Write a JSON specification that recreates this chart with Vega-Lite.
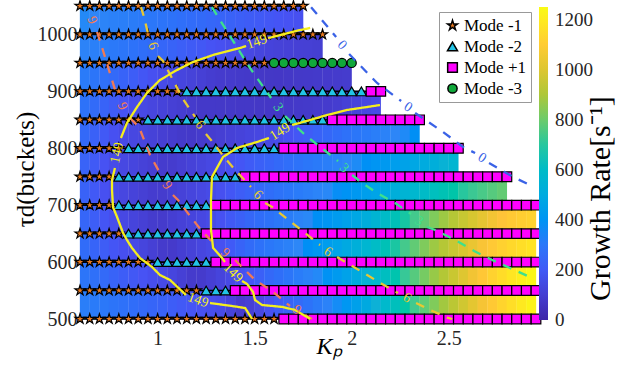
{
"$schema":"https://vega.github.io/schema/vega-lite/v6.json",
"width":456,"height":313,
"autosize":{"type":"none"},
"padding":{"left":80,"top":6,"right":88,"bottom":46},
"config":{"view":{"stroke":null},"font":"Liberation Serif",
"axis":{"domain":false,"ticks":false,"grid":false,"labelFont":"Liberation Serif","labelColor":"#262626","labelFontSize":20,"titleFont":"Liberation Serif","titleFontWeight":"normal","titleColor":"#000"},
"legend":{"labelFont":"Liberation Serif","titleFont":"Liberation Serif"}},
"datasets":{
"pts":[
{"k":0.6,"t":500,"m":"-1"},{"k":0.65,"t":500,"m":"-1"},{"k":0.7,"t":500,"m":"-1"},{"k":0.75,"t":500,"m":"-1"},{"k":0.8,"t":500,"m":"-1"},{"k":0.85,"t":500,"m":"-1"},{"k":0.9,"t":500,"m":"-1"},{"k":0.95,"t":500,"m":"-1"},{"k":1,"t":500,"m":"-1"},{"k":1.05,"t":500,"m":"-1"},{"k":1.1,"t":500,"m":"-1"},{"k":1.15,"t":500,"m":"-1"},{"k":1.2,"t":500,"m":"-1"},{"k":1.25,"t":500,"m":"-1"},{"k":1.3,"t":500,"m":"-1"},{"k":1.35,"t":500,"m":"-1"},{"k":1.4,"t":500,"m":"-1"},{"k":1.45,"t":500,"m":"-1"},{"k":1.5,"t":500,"m":"-1"},{"k":1.55,"t":500,"m":"-1"},{"k":1.6,"t":500,"m":"-1"},
{"k":1.65,"t":500,"m":"+1"},{"k":1.7,"t":500,"m":"+1"},{"k":1.75,"t":500,"m":"+1"},{"k":1.8,"t":500,"m":"+1"},{"k":1.85,"t":500,"m":"+1"},{"k":1.9,"t":500,"m":"+1"},{"k":1.95,"t":500,"m":"+1"},{"k":2,"t":500,"m":"+1"},{"k":2.05,"t":500,"m":"+1"},{"k":2.1,"t":500,"m":"+1"},{"k":2.15,"t":500,"m":"+1"},{"k":2.2,"t":500,"m":"+1"},{"k":2.25,"t":500,"m":"+1"},{"k":2.3,"t":500,"m":"+1"},{"k":2.35,"t":500,"m":"+1"},{"k":2.4,"t":500,"m":"+1"},{"k":2.45,"t":500,"m":"+1"},{"k":2.5,"t":500,"m":"+1"},{"k":2.55,"t":500,"m":"+1"},{"k":2.6,"t":500,"m":"+1"},{"k":2.65,"t":500,"m":"+1"},{"k":2.7,"t":500,"m":"+1"},{"k":2.75,"t":500,"m":"+1"},{"k":2.8,"t":500,"m":"+1"},{"k":2.85,"t":500,"m":"+1"},{"k":2.9,"t":500,"m":"+1"},{"k":2.95,"t":500,"m":"+1"},
{"k":0.6,"t":550,"m":"-1"},{"k":0.65,"t":550,"m":"-1"},{"k":0.7,"t":550,"m":"-1"},{"k":0.75,"t":550,"m":"-1"},{"k":0.8,"t":550,"m":"-1"},{"k":0.85,"t":550,"m":"-1"},{"k":0.9,"t":550,"m":"-1"},{"k":0.95,"t":550,"m":"-1"},{"k":1,"t":550,"m":"-1"},{"k":1.05,"t":550,"m":"-1"},{"k":1.1,"t":550,"m":"-1"},{"k":1.15,"t":550,"m":"-1"},{"k":1.2,"t":550,"m":"-1"},
{"k":1.25,"t":550,"m":"-2"},{"k":1.3,"t":550,"m":"-2"},{"k":1.35,"t":550,"m":"-2"},
{"k":1.4,"t":550,"m":"+1"},{"k":1.45,"t":550,"m":"+1"},{"k":1.5,"t":550,"m":"+1"},{"k":1.55,"t":550,"m":"+1"},{"k":1.6,"t":550,"m":"+1"},{"k":1.65,"t":550,"m":"+1"},{"k":1.7,"t":550,"m":"+1"},{"k":1.75,"t":550,"m":"+1"},{"k":1.8,"t":550,"m":"+1"},{"k":1.85,"t":550,"m":"+1"},{"k":1.9,"t":550,"m":"+1"},{"k":1.95,"t":550,"m":"+1"},{"k":2,"t":550,"m":"+1"},{"k":2.05,"t":550,"m":"+1"},{"k":2.1,"t":550,"m":"+1"},{"k":2.15,"t":550,"m":"+1"},{"k":2.2,"t":550,"m":"+1"},{"k":2.25,"t":550,"m":"+1"},{"k":2.3,"t":550,"m":"+1"},{"k":2.35,"t":550,"m":"+1"},{"k":2.4,"t":550,"m":"+1"},{"k":2.45,"t":550,"m":"+1"},{"k":2.5,"t":550,"m":"+1"},{"k":2.55,"t":550,"m":"+1"},{"k":2.6,"t":550,"m":"+1"},{"k":2.65,"t":550,"m":"+1"},{"k":2.7,"t":550,"m":"+1"},{"k":2.75,"t":550,"m":"+1"},{"k":2.8,"t":550,"m":"+1"},{"k":2.85,"t":550,"m":"+1"},{"k":2.9,"t":550,"m":"+1"},{"k":2.95,"t":550,"m":"+1"},
{"k":0.6,"t":600,"m":"-1"},{"k":0.65,"t":600,"m":"-1"},{"k":0.7,"t":600,"m":"-1"},{"k":0.75,"t":600,"m":"-1"},{"k":0.8,"t":600,"m":"-1"},{"k":0.85,"t":600,"m":"-1"},{"k":0.9,"t":600,"m":"-1"},{"k":0.95,"t":600,"m":"-1"},
{"k":1,"t":600,"m":"-2"},{"k":1.05,"t":600,"m":"-2"},{"k":1.1,"t":600,"m":"-2"},{"k":1.15,"t":600,"m":"-2"},{"k":1.2,"t":600,"m":"-2"},{"k":1.25,"t":600,"m":"-2"},
{"k":1.3,"t":600,"m":"+1"},{"k":1.35,"t":600,"m":"+1"},{"k":1.4,"t":600,"m":"+1"},{"k":1.45,"t":600,"m":"+1"},{"k":1.5,"t":600,"m":"+1"},{"k":1.55,"t":600,"m":"+1"},{"k":1.6,"t":600,"m":"+1"},{"k":1.65,"t":600,"m":"+1"},{"k":1.7,"t":600,"m":"+1"},{"k":1.75,"t":600,"m":"+1"},{"k":1.8,"t":600,"m":"+1"},{"k":1.85,"t":600,"m":"+1"},{"k":1.9,"t":600,"m":"+1"},{"k":1.95,"t":600,"m":"+1"},{"k":2,"t":600,"m":"+1"},{"k":2.05,"t":600,"m":"+1"},{"k":2.1,"t":600,"m":"+1"},{"k":2.15,"t":600,"m":"+1"},{"k":2.2,"t":600,"m":"+1"},{"k":2.25,"t":600,"m":"+1"},{"k":2.3,"t":600,"m":"+1"},{"k":2.35,"t":600,"m":"+1"},{"k":2.4,"t":600,"m":"+1"},{"k":2.45,"t":600,"m":"+1"},{"k":2.5,"t":600,"m":"+1"},{"k":2.55,"t":600,"m":"+1"},{"k":2.6,"t":600,"m":"+1"},{"k":2.65,"t":600,"m":"+1"},{"k":2.7,"t":600,"m":"+1"},{"k":2.75,"t":600,"m":"+1"},{"k":2.8,"t":600,"m":"+1"},{"k":2.85,"t":600,"m":"+1"},{"k":2.9,"t":600,"m":"+1"},{"k":2.95,"t":600,"m":"+1"},
{"k":0.6,"t":650,"m":"-1"},{"k":0.65,"t":650,"m":"-1"},{"k":0.7,"t":650,"m":"-1"},{"k":0.75,"t":650,"m":"-1"},{"k":0.8,"t":650,"m":"-1"},
{"k":0.85,"t":650,"m":"-2"},{"k":0.9,"t":650,"m":"-2"},{"k":0.95,"t":650,"m":"-2"},{"k":1,"t":650,"m":"-2"},{"k":1.05,"t":650,"m":"-2"},{"k":1.1,"t":650,"m":"-2"},{"k":1.15,"t":650,"m":"-2"},{"k":1.2,"t":650,"m":"-2"},
{"k":1.25,"t":650,"m":"+1"},{"k":1.3,"t":650,"m":"+1"},{"k":1.35,"t":650,"m":"+1"},{"k":1.4,"t":650,"m":"+1"},{"k":1.45,"t":650,"m":"+1"},{"k":1.5,"t":650,"m":"+1"},{"k":1.55,"t":650,"m":"+1"},{"k":1.6,"t":650,"m":"+1"},{"k":1.65,"t":650,"m":"+1"},{"k":1.7,"t":650,"m":"+1"},{"k":1.75,"t":650,"m":"+1"},{"k":1.8,"t":650,"m":"+1"},{"k":1.85,"t":650,"m":"+1"},{"k":1.9,"t":650,"m":"+1"},{"k":1.95,"t":650,"m":"+1"},{"k":2,"t":650,"m":"+1"},{"k":2.05,"t":650,"m":"+1"},{"k":2.1,"t":650,"m":"+1"},{"k":2.15,"t":650,"m":"+1"},{"k":2.2,"t":650,"m":"+1"},{"k":2.25,"t":650,"m":"+1"},{"k":2.3,"t":650,"m":"+1"},{"k":2.35,"t":650,"m":"+1"},{"k":2.4,"t":650,"m":"+1"},{"k":2.45,"t":650,"m":"+1"},{"k":2.5,"t":650,"m":"+1"},{"k":2.55,"t":650,"m":"+1"},{"k":2.6,"t":650,"m":"+1"},{"k":2.65,"t":650,"m":"+1"},{"k":2.7,"t":650,"m":"+1"},{"k":2.75,"t":650,"m":"+1"},{"k":2.8,"t":650,"m":"+1"},{"k":2.85,"t":650,"m":"+1"},{"k":2.9,"t":650,"m":"+1"},{"k":2.95,"t":650,"m":"+1"},
{"k":0.6,"t":700,"m":"-1"},{"k":0.65,"t":700,"m":"-1"},{"k":0.7,"t":700,"m":"-1"},{"k":0.75,"t":700,"m":"-1"},
{"k":0.8,"t":700,"m":"-2"},{"k":0.85,"t":700,"m":"-2"},{"k":0.9,"t":700,"m":"-2"},{"k":0.95,"t":700,"m":"-2"},{"k":1,"t":700,"m":"-2"},{"k":1.05,"t":700,"m":"-2"},{"k":1.1,"t":700,"m":"-2"},{"k":1.15,"t":700,"m":"-2"},{"k":1.2,"t":700,"m":"-2"},{"k":1.25,"t":700,"m":"-2"},
{"k":1.3,"t":700,"m":"+1"},{"k":1.35,"t":700,"m":"+1"},{"k":1.4,"t":700,"m":"+1"},{"k":1.45,"t":700,"m":"+1"},{"k":1.5,"t":700,"m":"+1"},{"k":1.55,"t":700,"m":"+1"},{"k":1.6,"t":700,"m":"+1"},{"k":1.65,"t":700,"m":"+1"},{"k":1.7,"t":700,"m":"+1"},{"k":1.75,"t":700,"m":"+1"},{"k":1.8,"t":700,"m":"+1"},{"k":1.85,"t":700,"m":"+1"},{"k":1.9,"t":700,"m":"+1"},{"k":1.95,"t":700,"m":"+1"},{"k":2,"t":700,"m":"+1"},{"k":2.05,"t":700,"m":"+1"},{"k":2.1,"t":700,"m":"+1"},{"k":2.15,"t":700,"m":"+1"},{"k":2.2,"t":700,"m":"+1"},{"k":2.25,"t":700,"m":"+1"},{"k":2.3,"t":700,"m":"+1"},{"k":2.35,"t":700,"m":"+1"},{"k":2.4,"t":700,"m":"+1"},{"k":2.45,"t":700,"m":"+1"},{"k":2.5,"t":700,"m":"+1"},{"k":2.55,"t":700,"m":"+1"},{"k":2.6,"t":700,"m":"+1"},{"k":2.65,"t":700,"m":"+1"},{"k":2.7,"t":700,"m":"+1"},{"k":2.75,"t":700,"m":"+1"},{"k":2.8,"t":700,"m":"+1"},{"k":2.85,"t":700,"m":"+1"},{"k":2.9,"t":700,"m":"+1"},{"k":2.95,"t":700,"m":"+1"},
{"k":0.6,"t":750,"m":"-1"},{"k":0.65,"t":750,"m":"-1"},{"k":0.7,"t":750,"m":"-1"},{"k":0.75,"t":750,"m":"-1"},
{"k":0.8,"t":750,"m":"-2"},{"k":0.85,"t":750,"m":"-2"},{"k":0.9,"t":750,"m":"-2"},{"k":0.95,"t":750,"m":"-2"},{"k":1,"t":750,"m":"-2"},{"k":1.05,"t":750,"m":"-2"},{"k":1.1,"t":750,"m":"-2"},{"k":1.15,"t":750,"m":"-2"},{"k":1.2,"t":750,"m":"-2"},{"k":1.25,"t":750,"m":"-2"},{"k":1.3,"t":750,"m":"-2"},{"k":1.35,"t":750,"m":"-2"},{"k":1.4,"t":750,"m":"-2"},
{"k":1.45,"t":750,"m":"+1"},{"k":1.5,"t":750,"m":"+1"},{"k":1.55,"t":750,"m":"+1"},{"k":1.6,"t":750,"m":"+1"},{"k":1.65,"t":750,"m":"+1"},{"k":1.7,"t":750,"m":"+1"},{"k":1.75,"t":750,"m":"+1"},{"k":1.8,"t":750,"m":"+1"},{"k":1.85,"t":750,"m":"+1"},{"k":1.9,"t":750,"m":"+1"},{"k":1.95,"t":750,"m":"+1"},{"k":2,"t":750,"m":"+1"},{"k":2.05,"t":750,"m":"+1"},{"k":2.1,"t":750,"m":"+1"},{"k":2.15,"t":750,"m":"+1"},{"k":2.2,"t":750,"m":"+1"},{"k":2.25,"t":750,"m":"+1"},{"k":2.3,"t":750,"m":"+1"},{"k":2.35,"t":750,"m":"+1"},{"k":2.4,"t":750,"m":"+1"},{"k":2.45,"t":750,"m":"+1"},{"k":2.5,"t":750,"m":"+1"},{"k":2.55,"t":750,"m":"+1"},{"k":2.6,"t":750,"m":"+1"},{"k":2.65,"t":750,"m":"+1"},{"k":2.7,"t":750,"m":"+1"},{"k":2.75,"t":750,"m":"+1"},{"k":2.8,"t":750,"m":"+1"},
{"k":0.6,"t":800,"m":"-1"},{"k":0.65,"t":800,"m":"-1"},{"k":0.7,"t":800,"m":"-1"},{"k":0.75,"t":800,"m":"-1"},{"k":0.8,"t":800,"m":"-1"},
{"k":0.85,"t":800,"m":"-2"},{"k":0.9,"t":800,"m":"-2"},{"k":0.95,"t":800,"m":"-2"},{"k":1,"t":800,"m":"-2"},{"k":1.05,"t":800,"m":"-2"},{"k":1.1,"t":800,"m":"-2"},{"k":1.15,"t":800,"m":"-2"},{"k":1.2,"t":800,"m":"-2"},{"k":1.25,"t":800,"m":"-2"},{"k":1.3,"t":800,"m":"-2"},{"k":1.35,"t":800,"m":"-2"},{"k":1.4,"t":800,"m":"-2"},{"k":1.45,"t":800,"m":"-2"},{"k":1.5,"t":800,"m":"-2"},{"k":1.55,"t":800,"m":"-2"},{"k":1.6,"t":800,"m":"-2"},
{"k":1.65,"t":800,"m":"+1"},{"k":1.7,"t":800,"m":"+1"},{"k":1.75,"t":800,"m":"+1"},{"k":1.8,"t":800,"m":"+1"},{"k":1.85,"t":800,"m":"+1"},{"k":1.9,"t":800,"m":"+1"},{"k":1.95,"t":800,"m":"+1"},{"k":2,"t":800,"m":"+1"},{"k":2.05,"t":800,"m":"+1"},{"k":2.1,"t":800,"m":"+1"},{"k":2.15,"t":800,"m":"+1"},{"k":2.2,"t":800,"m":"+1"},{"k":2.25,"t":800,"m":"+1"},{"k":2.3,"t":800,"m":"+1"},{"k":2.35,"t":800,"m":"+1"},{"k":2.4,"t":800,"m":"+1"},{"k":2.45,"t":800,"m":"+1"},{"k":2.5,"t":800,"m":"+1"},{"k":2.55,"t":800,"m":"+1"},
{"k":0.6,"t":850,"m":"-1"},{"k":0.65,"t":850,"m":"-1"},{"k":0.7,"t":850,"m":"-1"},{"k":0.75,"t":850,"m":"-1"},{"k":0.8,"t":850,"m":"-1"},{"k":0.85,"t":850,"m":"-1"},{"k":0.9,"t":850,"m":"-1"},
{"k":0.95,"t":850,"m":"-2"},{"k":1,"t":850,"m":"-2"},{"k":1.05,"t":850,"m":"-2"},{"k":1.1,"t":850,"m":"-2"},{"k":1.15,"t":850,"m":"-2"},{"k":1.2,"t":850,"m":"-2"},{"k":1.25,"t":850,"m":"-2"},{"k":1.3,"t":850,"m":"-2"},{"k":1.35,"t":850,"m":"-2"},{"k":1.4,"t":850,"m":"-2"},{"k":1.45,"t":850,"m":"-2"},{"k":1.5,"t":850,"m":"-2"},{"k":1.55,"t":850,"m":"-2"},{"k":1.6,"t":850,"m":"-2"},{"k":1.65,"t":850,"m":"-2"},{"k":1.7,"t":850,"m":"-2"},{"k":1.75,"t":850,"m":"-2"},{"k":1.8,"t":850,"m":"-2"},{"k":1.85,"t":850,"m":"-2"},
{"k":1.9,"t":850,"m":"+1"},{"k":1.95,"t":850,"m":"+1"},{"k":2,"t":850,"m":"+1"},{"k":2.05,"t":850,"m":"+1"},{"k":2.1,"t":850,"m":"+1"},{"k":2.15,"t":850,"m":"+1"},{"k":2.2,"t":850,"m":"+1"},{"k":2.25,"t":850,"m":"+1"},{"k":2.3,"t":850,"m":"+1"},{"k":2.35,"t":850,"m":"+1"},
{"k":0.6,"t":900,"m":"-1"},{"k":0.65,"t":900,"m":"-1"},{"k":0.7,"t":900,"m":"-1"},{"k":0.75,"t":900,"m":"-1"},{"k":0.8,"t":900,"m":"-1"},{"k":0.85,"t":900,"m":"-1"},{"k":0.9,"t":900,"m":"-1"},{"k":0.95,"t":900,"m":"-1"},{"k":1,"t":900,"m":"-1"},{"k":1.05,"t":900,"m":"-1"},{"k":1.1,"t":900,"m":"-1"},
{"k":1.15,"t":900,"m":"-2"},{"k":1.2,"t":900,"m":"-2"},{"k":1.25,"t":900,"m":"-2"},{"k":1.3,"t":900,"m":"-2"},{"k":1.35,"t":900,"m":"-2"},{"k":1.4,"t":900,"m":"-2"},{"k":1.45,"t":900,"m":"-2"},{"k":1.5,"t":900,"m":"-2"},{"k":1.55,"t":900,"m":"-2"},{"k":1.6,"t":900,"m":"-2"},{"k":1.65,"t":900,"m":"-2"},{"k":1.7,"t":900,"m":"-2"},{"k":1.75,"t":900,"m":"-2"},{"k":1.8,"t":900,"m":"-2"},{"k":1.85,"t":900,"m":"-2"},{"k":1.9,"t":900,"m":"-2"},{"k":1.95,"t":900,"m":"-2"},{"k":2,"t":900,"m":"-2"},{"k":2.05,"t":900,"m":"-2"},
{"k":2.1,"t":900,"m":"+1"},{"k":2.15,"t":900,"m":"+1"},
{"k":0.6,"t":950,"m":"-1"},{"k":0.65,"t":950,"m":"-1"},{"k":0.7,"t":950,"m":"-1"},{"k":0.75,"t":950,"m":"-1"},{"k":0.8,"t":950,"m":"-1"},{"k":0.85,"t":950,"m":"-1"},{"k":0.9,"t":950,"m":"-1"},{"k":0.95,"t":950,"m":"-1"},{"k":1,"t":950,"m":"-1"},{"k":1.05,"t":950,"m":"-1"},{"k":1.1,"t":950,"m":"-1"},{"k":1.15,"t":950,"m":"-1"},{"k":1.2,"t":950,"m":"-1"},{"k":1.25,"t":950,"m":"-1"},{"k":1.3,"t":950,"m":"-1"},{"k":1.35,"t":950,"m":"-1"},{"k":1.4,"t":950,"m":"-1"},{"k":1.45,"t":950,"m":"-1"},{"k":1.5,"t":950,"m":"-1"},{"k":1.55,"t":950,"m":"-1"},
{"k":1.6,"t":950,"m":"-3"},{"k":1.65,"t":950,"m":"-3"},{"k":1.7,"t":950,"m":"-3"},{"k":1.75,"t":950,"m":"-3"},{"k":1.8,"t":950,"m":"-3"},{"k":1.85,"t":950,"m":"-3"},{"k":1.9,"t":950,"m":"-3"},{"k":1.95,"t":950,"m":"-3"},{"k":2,"t":950,"m":"-3"},
{"k":0.6,"t":1000,"m":"-1"},{"k":0.65,"t":1000,"m":"-1"},{"k":0.7,"t":1000,"m":"-1"},{"k":0.75,"t":1000,"m":"-1"},{"k":0.8,"t":1000,"m":"-1"},{"k":0.85,"t":1000,"m":"-1"},{"k":0.9,"t":1000,"m":"-1"},{"k":0.95,"t":1000,"m":"-1"},{"k":1,"t":1000,"m":"-1"},{"k":1.05,"t":1000,"m":"-1"},{"k":1.1,"t":1000,"m":"-1"},{"k":1.15,"t":1000,"m":"-1"},{"k":1.2,"t":1000,"m":"-1"},{"k":1.25,"t":1000,"m":"-1"},{"k":1.3,"t":1000,"m":"-1"},{"k":1.35,"t":1000,"m":"-1"},{"k":1.4,"t":1000,"m":"-1"},{"k":1.45,"t":1000,"m":"-1"},{"k":1.5,"t":1000,"m":"-1"},{"k":1.55,"t":1000,"m":"-1"},{"k":1.6,"t":1000,"m":"-1"},{"k":1.65,"t":1000,"m":"-1"},{"k":1.7,"t":1000,"m":"-1"},{"k":1.75,"t":1000,"m":"-1"},{"k":1.8,"t":1000,"m":"-1"},{"k":1.85,"t":1000,"m":"-1"},
{"k":0.6,"t":1050,"m":"-1"},{"k":0.65,"t":1050,"m":"-1"},{"k":0.7,"t":1050,"m":"-1"},{"k":0.75,"t":1050,"m":"-1"},{"k":0.8,"t":1050,"m":"-1"},{"k":0.85,"t":1050,"m":"-1"},{"k":0.9,"t":1050,"m":"-1"},{"k":0.95,"t":1050,"m":"-1"},{"k":1,"t":1050,"m":"-1"},{"k":1.05,"t":1050,"m":"-1"},{"k":1.1,"t":1050,"m":"-1"},{"k":1.15,"t":1050,"m":"-1"},{"k":1.2,"t":1050,"m":"-1"},{"k":1.25,"t":1050,"m":"-1"},{"k":1.3,"t":1050,"m":"-1"},{"k":1.35,"t":1050,"m":"-1"},{"k":1.4,"t":1050,"m":"-1"},{"k":1.45,"t":1050,"m":"-1"},{"k":1.5,"t":1050,"m":"-1"},{"k":1.55,"t":1050,"m":"-1"},{"k":1.6,"t":1050,"m":"-1"},{"k":1.65,"t":1050,"m":"-1"},{"k":1.7,"t":1050,"m":"-1"},{"k":1.75,"t":1050,"m":"-1"}
],
"heat":[
{"k":0.625,"t":525,"g":324},{"k":0.675,"t":525,"g":311},{"k":0.725,"t":525,"g":299},{"k":0.775,"t":525,"g":286},{"k":0.825,"t":525,"g":274},{"k":0.875,"t":525,"g":261},{"k":0.925,"t":525,"g":249},{"k":0.975,"t":525,"g":236},{"k":1.025,"t":525,"g":224},{"k":1.075,"t":525,"g":211},{"k":1.125,"t":525,"g":199},{"k":1.175,"t":525,"g":186},{"k":1.225,"t":525,"g":175},{"k":1.275,"t":525,"g":162},{"k":1.325,"t":525,"g":150},{"k":1.375,"t":525,"g":120},{"k":1.425,"t":525,"g":90},{"k":1.475,"t":525,"g":105},{"k":1.525,"t":525,"g":140},{"k":1.575,"t":525,"g":173},{"k":1.625,"t":525,"g":203},{"k":1.675,"t":525,"g":228},{"k":1.725,"t":525,"g":253},{"k":1.775,"t":525,"g":278},{"k":1.825,"t":525,"g":306},{"k":1.875,"t":525,"g":339},{"k":1.925,"t":525,"g":374},{"k":1.975,"t":525,"g":411},{"k":2.025,"t":525,"g":451},{"k":2.075,"t":525,"g":494},{"k":2.125,"t":525,"g":538},{"k":2.175,"t":525,"g":583},{"k":2.225,"t":525,"g":630},{"k":2.275,"t":525,"g":680},{"k":2.325,"t":525,"g":730},{"k":2.375,"t":525,"g":780},{"k":2.425,"t":525,"g":830},{"k":2.475,"t":525,"g":880},{"k":2.525,"t":525,"g":928},{"k":2.575,"t":525,"g":973},{"k":2.625,"t":525,"g":1015},{"k":2.675,"t":525,"g":1055},{"k":2.725,"t":525,"g":1093},{"k":2.775,"t":525,"g":1128},{"k":2.825,"t":525,"g":1161},{"k":2.875,"t":525,"g":1194},{"k":2.925,"t":525,"g":1225},
{"k":0.625,"t":575,"g":290},{"k":0.675,"t":575,"g":270},{"k":0.725,"t":575,"g":250},{"k":0.775,"t":575,"g":230},{"k":0.825,"t":575,"g":211},{"k":0.875,"t":575,"g":195},{"k":0.925,"t":575,"g":180},{"k":0.975,"t":575,"g":164},{"k":1.025,"t":575,"g":147},{"k":1.075,"t":575,"g":127},{"k":1.125,"t":575,"g":106},{"k":1.175,"t":575,"g":85},{"k":1.225,"t":575,"g":85},{"k":1.275,"t":575,"g":104},{"k":1.325,"t":575,"g":124},{"k":1.375,"t":575,"g":143},{"k":1.425,"t":575,"g":167},{"k":1.475,"t":575,"g":192},{"k":1.525,"t":575,"g":218},{"k":1.575,"t":575,"g":243},{"k":1.625,"t":575,"g":266},{"k":1.675,"t":575,"g":289},{"k":1.725,"t":575,"g":313},{"k":1.775,"t":575,"g":338},{"k":1.825,"t":575,"g":365},{"k":1.875,"t":575,"g":395},{"k":1.925,"t":575,"g":426},{"k":1.975,"t":575,"g":459},{"k":2.025,"t":575,"g":494},{"k":2.075,"t":575,"g":531},{"k":2.125,"t":575,"g":573},{"k":2.175,"t":575,"g":618},{"k":2.225,"t":575,"g":665},{"k":2.275,"t":575,"g":715},{"k":2.325,"t":575,"g":765},{"k":2.375,"t":575,"g":815},{"k":2.425,"t":575,"g":864},{"k":2.475,"t":575,"g":911},{"k":2.525,"t":575,"g":958},{"k":2.575,"t":575,"g":1003},{"k":2.625,"t":575,"g":1045},{"k":2.675,"t":575,"g":1085},{"k":2.725,"t":575,"g":1121},{"k":2.775,"t":575,"g":1154},{"k":2.825,"t":575,"g":1184},{"k":2.875,"t":575,"g":1211},{"k":2.925,"t":575,"g":1235},
{"k":0.625,"t":625,"g":258},{"k":0.675,"t":625,"g":233},{"k":0.725,"t":625,"g":209},{"k":0.775,"t":625,"g":188},{"k":0.825,"t":625,"g":167},{"k":0.875,"t":625,"g":146},{"k":0.925,"t":625,"g":126},{"k":0.975,"t":625,"g":106},{"k":1.025,"t":625,"g":85},{"k":1.075,"t":625,"g":83},{"k":1.125,"t":625,"g":99},{"k":1.175,"t":625,"g":114},{"k":1.225,"t":625,"g":130},{"k":1.275,"t":625,"g":145},{"k":1.325,"t":625,"g":171},{"k":1.375,"t":625,"g":200},{"k":1.425,"t":625,"g":228},{"k":1.475,"t":625,"g":253},{"k":1.525,"t":625,"g":275},{"k":1.575,"t":625,"g":295},{"k":1.625,"t":625,"g":315},{"k":1.675,"t":625,"g":335},{"k":1.725,"t":625,"g":358},{"k":1.775,"t":625,"g":383},{"k":1.825,"t":625,"g":409},{"k":1.875,"t":625,"g":436},{"k":1.925,"t":625,"g":464},{"k":1.975,"t":625,"g":493},{"k":2.025,"t":625,"g":525},{"k":2.075,"t":625,"g":562},{"k":2.125,"t":625,"g":602},{"k":2.175,"t":625,"g":645},{"k":2.225,"t":625,"g":690},{"k":2.275,"t":625,"g":736},{"k":2.325,"t":625,"g":782},{"k":2.375,"t":625,"g":828},{"k":2.425,"t":625,"g":872},{"k":2.475,"t":625,"g":914},{"k":2.525,"t":625,"g":954},{"k":2.575,"t":625,"g":992},{"k":2.625,"t":625,"g":1028},{"k":2.675,"t":625,"g":1060},{"k":2.725,"t":625,"g":1090},{"k":2.775,"t":625,"g":1117},{"k":2.825,"t":625,"g":1140},{"k":2.875,"t":625,"g":1160},{"k":2.925,"t":625,"g":1178},
{"k":0.625,"t":675,"g":237},{"k":0.675,"t":675,"g":212},{"k":0.725,"t":675,"g":187},{"k":0.775,"t":675,"g":162},{"k":0.825,"t":675,"g":140},{"k":0.875,"t":675,"g":123},{"k":0.925,"t":675,"g":106},{"k":0.975,"t":675,"g":89},{"k":1.025,"t":675,"g":86},{"k":1.075,"t":675,"g":99},{"k":1.125,"t":675,"g":111},{"k":1.175,"t":675,"g":124},{"k":1.225,"t":675,"g":136},{"k":1.275,"t":675,"g":149},{"k":1.325,"t":675,"g":173},{"k":1.375,"t":675,"g":198},{"k":1.425,"t":675,"g":220},{"k":1.475,"t":675,"g":240},{"k":1.525,"t":675,"g":260},{"k":1.575,"t":675,"g":280},{"k":1.625,"t":675,"g":300},{"k":1.675,"t":675,"g":320},{"k":1.725,"t":675,"g":340},{"k":1.775,"t":675,"g":360},{"k":1.825,"t":675,"g":382},{"k":1.875,"t":675,"g":404},{"k":1.925,"t":675,"g":428},{"k":1.975,"t":675,"g":453},{"k":2.025,"t":675,"g":480},{"k":2.075,"t":675,"g":515},{"k":2.125,"t":675,"g":555},{"k":2.175,"t":675,"g":598},{"k":2.225,"t":675,"g":642},{"k":2.275,"t":675,"g":688},{"k":2.325,"t":675,"g":735},{"k":2.375,"t":675,"g":782},{"k":2.425,"t":675,"g":828},{"k":2.475,"t":675,"g":872},{"k":2.525,"t":675,"g":914},{"k":2.575,"t":675,"g":952},{"k":2.625,"t":675,"g":988},{"k":2.675,"t":675,"g":1020},{"k":2.725,"t":675,"g":1048},{"k":2.775,"t":675,"g":1072},{"k":2.825,"t":675,"g":1092},{"k":2.875,"t":675,"g":1108},{"k":2.925,"t":675,"g":1120},
{"k":0.625,"t":725,"g":226},{"k":0.675,"t":725,"g":198},{"k":0.725,"t":725,"g":171},{"k":0.775,"t":725,"g":146},{"k":0.825,"t":725,"g":133},{"k":0.875,"t":725,"g":119},{"k":0.925,"t":725,"g":105},{"k":0.975,"t":725,"g":92},{"k":1.025,"t":725,"g":91},{"k":1.075,"t":725,"g":102},{"k":1.125,"t":725,"g":114},{"k":1.175,"t":725,"g":126},{"k":1.225,"t":725,"g":137},{"k":1.275,"t":725,"g":149},{"k":1.325,"t":725,"g":169},{"k":1.375,"t":725,"g":190},{"k":1.425,"t":725,"g":209},{"k":1.475,"t":725,"g":226},{"k":1.525,"t":725,"g":244},{"k":1.575,"t":725,"g":261},{"k":1.625,"t":725,"g":278},{"k":1.675,"t":725,"g":294},{"k":1.725,"t":725,"g":311},{"k":1.775,"t":725,"g":327},{"k":1.825,"t":725,"g":344},{"k":1.875,"t":725,"g":361},{"k":1.925,"t":725,"g":379},{"k":1.975,"t":725,"g":396},{"k":2.025,"t":725,"g":418},{"k":2.075,"t":725,"g":442},{"k":2.125,"t":725,"g":467},{"k":2.175,"t":725,"g":492},{"k":2.225,"t":725,"g":518},{"k":2.275,"t":725,"g":545},{"k":2.325,"t":725,"g":572},{"k":2.375,"t":725,"g":600},{"k":2.425,"t":725,"g":625},{"k":2.475,"t":725,"g":650},{"k":2.525,"t":725,"g":675},{"k":2.575,"t":725,"g":700},{"k":2.625,"t":725,"g":722},{"k":2.675,"t":725,"g":745},{"k":2.725,"t":725,"g":765},{"k":2.775,"t":725,"g":785},
{"k":0.625,"t":775,"g":227},{"k":0.675,"t":775,"g":202},{"k":0.725,"t":775,"g":177},{"k":0.775,"t":775,"g":152},{"k":0.825,"t":775,"g":138},{"k":0.875,"t":775,"g":127},{"k":0.925,"t":775,"g":115},{"k":0.975,"t":775,"g":103},{"k":1.025,"t":775,"g":91},{"k":1.075,"t":775,"g":91},{"k":1.125,"t":775,"g":103},{"k":1.175,"t":775,"g":115},{"k":1.225,"t":775,"g":126},{"k":1.275,"t":775,"g":138},{"k":1.325,"t":775,"g":151},{"k":1.375,"t":775,"g":170},{"k":1.425,"t":775,"g":188},{"k":1.475,"t":775,"g":203},{"k":1.525,"t":775,"g":218},{"k":1.575,"t":775,"g":233},{"k":1.625,"t":775,"g":248},{"k":1.675,"t":775,"g":263},{"k":1.725,"t":775,"g":278},{"k":1.775,"t":775,"g":293},{"k":1.825,"t":775,"g":308},{"k":1.875,"t":775,"g":323},{"k":1.925,"t":775,"g":338},{"k":1.975,"t":775,"g":353},{"k":2.025,"t":775,"g":369},{"k":2.075,"t":775,"g":386},{"k":2.125,"t":775,"g":404},{"k":2.175,"t":775,"g":421},{"k":2.225,"t":775,"g":440},{"k":2.275,"t":775,"g":460},{"k":2.325,"t":775,"g":480},{"k":2.375,"t":775,"g":500},{"k":2.425,"t":775,"g":520},{"k":2.475,"t":775,"g":540},{"k":2.525,"t":775,"g":560},
{"k":0.625,"t":825,"g":247},{"k":0.675,"t":825,"g":222},{"k":0.725,"t":825,"g":197},{"k":0.775,"t":825,"g":172},{"k":0.825,"t":825,"g":148},{"k":0.875,"t":825,"g":136},{"k":0.925,"t":825,"g":125},{"k":0.975,"t":825,"g":114},{"k":1.025,"t":825,"g":103},{"k":1.075,"t":825,"g":92},{"k":1.125,"t":825,"g":81},{"k":1.175,"t":825,"g":79},{"k":1.225,"t":825,"g":87},{"k":1.275,"t":825,"g":95},{"k":1.325,"t":825,"g":103},{"k":1.375,"t":825,"g":111},{"k":1.425,"t":825,"g":119},{"k":1.475,"t":825,"g":127},{"k":1.525,"t":825,"g":135},{"k":1.575,"t":825,"g":143},{"k":1.625,"t":825,"g":154},{"k":1.675,"t":825,"g":172},{"k":1.725,"t":825,"g":189},{"k":1.775,"t":825,"g":206},{"k":1.825,"t":825,"g":224},{"k":1.875,"t":825,"g":241},{"k":1.925,"t":825,"g":259},{"k":1.975,"t":825,"g":276},{"k":2.025,"t":825,"g":293},{"k":2.075,"t":825,"g":308},{"k":2.125,"t":825,"g":323},{"k":2.175,"t":825,"g":338},{"k":2.225,"t":825,"g":353},{"k":2.275,"t":825,"g":368},{"k":2.325,"t":825,"g":383},
{"k":0.625,"t":875,"g":278},{"k":0.675,"t":875,"g":254},{"k":0.725,"t":875,"g":230},{"k":0.775,"t":875,"g":206},{"k":0.825,"t":875,"g":182},{"k":0.875,"t":875,"g":158},{"k":0.925,"t":875,"g":142},{"k":0.975,"t":875,"g":131},{"k":1.025,"t":875,"g":119},{"k":1.075,"t":875,"g":108},{"k":1.125,"t":875,"g":97},{"k":1.175,"t":875,"g":86},{"k":1.225,"t":875,"g":79},{"k":1.275,"t":875,"g":78},{"k":1.325,"t":875,"g":77},{"k":1.375,"t":875,"g":76},{"k":1.425,"t":875,"g":74},{"k":1.475,"t":875,"g":73},{"k":1.525,"t":875,"g":72},{"k":1.575,"t":875,"g":71},{"k":1.625,"t":875,"g":72},{"k":1.675,"t":875,"g":75},{"k":1.725,"t":875,"g":78},{"k":1.775,"t":875,"g":82},{"k":1.825,"t":875,"g":85},{"k":1.875,"t":875,"g":88},{"k":1.925,"t":875,"g":96},{"k":1.975,"t":875,"g":109},{"k":2.025,"t":875,"g":122},{"k":2.075,"t":875,"g":135},{"k":2.125,"t":875,"g":148},
{"k":0.625,"t":925,"g":310},{"k":0.675,"t":925,"g":290},{"k":0.725,"t":925,"g":270},{"k":0.775,"t":925,"g":250},{"k":0.825,"t":925,"g":230},{"k":0.875,"t":925,"g":211},{"k":0.925,"t":925,"g":191},{"k":0.975,"t":925,"g":171},{"k":1.025,"t":925,"g":151},{"k":1.075,"t":925,"g":139},{"k":1.125,"t":925,"g":128},{"k":1.175,"t":925,"g":117},{"k":1.225,"t":925,"g":106},{"k":1.275,"t":925,"g":95},{"k":1.325,"t":925,"g":88},{"k":1.375,"t":925,"g":85},{"k":1.425,"t":925,"g":82},{"k":1.475,"t":925,"g":78},{"k":1.525,"t":925,"g":75},{"k":1.575,"t":925,"g":72},{"k":1.625,"t":925,"g":71},{"k":1.675,"t":925,"g":74},{"k":1.725,"t":925,"g":76},{"k":1.775,"t":925,"g":79},{"k":1.825,"t":925,"g":81},{"k":1.875,"t":925,"g":84},{"k":1.925,"t":925,"g":86},{"k":1.975,"t":925,"g":89},
{"k":0.625,"t":975,"g":343},{"k":0.675,"t":975,"g":330},{"k":0.725,"t":975,"g":317},{"k":0.775,"t":975,"g":304},{"k":0.825,"t":975,"g":291},{"k":0.875,"t":975,"g":278},{"k":0.925,"t":975,"g":265},{"k":0.975,"t":975,"g":252},{"k":1.025,"t":975,"g":239},{"k":1.075,"t":975,"g":228},{"k":1.125,"t":975,"g":216},{"k":1.175,"t":975,"g":205},{"k":1.225,"t":975,"g":194},{"k":1.275,"t":975,"g":182},{"k":1.325,"t":975,"g":171},{"k":1.375,"t":975,"g":159},{"k":1.425,"t":975,"g":148},{"k":1.475,"t":975,"g":139},{"k":1.525,"t":975,"g":129},{"k":1.575,"t":975,"g":120},{"k":1.625,"t":975,"g":114},{"k":1.675,"t":975,"g":111},{"k":1.725,"t":975,"g":108},{"k":1.775,"t":975,"g":105},{"k":1.825,"t":975,"g":101},
{"k":0.625,"t":1025,"g":365},{"k":0.675,"t":1025,"g":355},{"k":0.725,"t":1025,"g":345},{"k":0.775,"t":1025,"g":335},{"k":0.825,"t":1025,"g":325},{"k":0.875,"t":1025,"g":315},{"k":0.925,"t":1025,"g":305},{"k":0.975,"t":1025,"g":295},{"k":1.025,"t":1025,"g":286},{"k":1.075,"t":1025,"g":277},{"k":1.125,"t":1025,"g":268},{"k":1.175,"t":1025,"g":259},{"k":1.225,"t":1025,"g":251},{"k":1.275,"t":1025,"g":242},{"k":1.325,"t":1025,"g":233},{"k":1.375,"t":1025,"g":224},{"k":1.425,"t":1025,"g":216},{"k":1.475,"t":1025,"g":208},{"k":1.525,"t":1025,"g":200},{"k":1.575,"t":1025,"g":192},{"k":1.625,"t":1025,"g":185},{"k":1.675,"t":1025,"g":177},{"k":1.725,"t":1025,"g":169}
],
"cont":[
{"c":"0a","lv":"0","o":1,"k":1.791,"t":1048},{"c":"0a","lv":"0","o":2,"k":1.92,"t":995.5},
{"c":"0b","lv":"0","o":1,"k":1.987,"t":965.7},{"c":"0b","lv":"0","o":2,"k":2.131,"t":914.7},{"c":"0b","lv":"0","o":3,"k":2.255,"t":883.1},
{"c":"0c","lv":"0","o":1,"k":2.327,"t":862},{"c":"0c","lv":"0","o":2,"k":2.471,"t":828.6},{"c":"0c","lv":"0","o":3,"k":2.574,"t":802.2},{"c":"0c","lv":"0","o":4,"k":2.636,"t":791.7},
{"c":"0d","lv":"0","o":1,"k":2.708,"t":774.1},{"c":"0d","lv":"0","o":2,"k":2.832,"t":749.5},{"c":"0d","lv":"0","o":3,"k":2.93,"t":733.7},
{"c":"3a","lv":"3","o":1,"k":1.28,"t":1048},{"c":"3a","lv":"3","o":2,"k":1.347,"t":1011.4},{"c":"3a","lv":"3","o":3,"k":1.476,"t":941.1},{"c":"3a","lv":"3","o":4,"k":1.585,"t":888.3},
{"c":"3b","lv":"3","o":1,"k":1.657,"t":856.7},{"c":"3b","lv":"3","o":2,"k":1.76,"t":823.3},{"c":"3b","lv":"3","o":3,"k":1.93,"t":777.6},
{"c":"3c","lv":"3","o":1,"k":2.002,"t":753},{"c":"3c","lv":"3","o":2,"k":2.069,"t":735.5},{"c":"3c","lv":"3","o":3,"k":2.131,"t":721.4},{"c":"3c","lv":"3","o":4,"k":2.224,"t":703.8},{"c":"3c","lv":"3","o":5,"k":2.306,"t":684.5},
{"c":"3d","lv":"3","o":1,"k":2.389,"t":661.7},{"c":"3d","lv":"3","o":2,"k":2.43,"t":656.4},{"c":"3d","lv":"3","o":3,"k":2.533,"t":638.8},{"c":"3d","lv":"3","o":4,"k":2.631,"t":619.5},{"c":"3d","lv":"3","o":5,"k":2.713,"t":605.4},{"c":"3d","lv":"3","o":6,"k":2.816,"t":589.6},{"c":"3d","lv":"3","o":7,"k":2.93,"t":572},
{"c":"6a","lv":"6","o":1,"k":0.914,"t":1048},{"c":"6a","lv":"6","o":2,"k":0.93,"t":1030.7},{"c":"6a","lv":"6","o":3,"k":0.951,"t":1000.8},
{"c":"6b","lv":"6","o":1,"k":1.002,"t":962.1},{"c":"6b","lv":"6","o":2,"k":1.028,"t":953.4},{"c":"6b","lv":"6","o":3,"k":1.079,"t":920},{"c":"6b","lv":"6","o":4,"k":1.131,"t":886.6},{"c":"6b","lv":"6","o":5,"k":1.193,"t":855},
{"c":"6c","lv":"6","o":1,"k":1.249,"t":825.1},{"c":"6c","lv":"6","o":2,"k":1.275,"t":814.5},{"c":"6c","lv":"6","o":3,"k":1.347,"t":782.9},{"c":"6c","lv":"6","o":4,"k":1.404,"t":760.1},{"c":"6c","lv":"6","o":5,"k":1.481,"t":732},
{"c":"6d","lv":"6","o":1,"k":1.554,"t":703.8},{"c":"6d","lv":"6","o":2,"k":1.59,"t":696.8},{"c":"6d","lv":"6","o":3,"k":1.682,"t":672.2},{"c":"6d","lv":"6","o":4,"k":1.837,"t":630},
{"c":"6e","lv":"6","o":1,"k":1.925,"t":608.9},{"c":"6e","lv":"6","o":2,"k":2.054,"t":582.6},{"c":"6e","lv":"6","o":3,"k":2.157,"t":561.5},{"c":"6e","lv":"6","o":4,"k":2.239,"t":545.7},
{"c":"6f","lv":"6","o":1,"k":2.332,"t":528.1},{"c":"6f","lv":"6","o":2,"k":2.394,"t":517.6},{"c":"6f","lv":"6","o":3,"k":2.497,"t":501.8},{"c":"6f","lv":"6","o":4,"k":2.518,"t":500},
{"c":"9a","lv":"9","o":1,"k":0.688,"t":1004.3},{"c":"9a","lv":"9","o":2,"k":0.698,"t":993.8},{"c":"9a","lv":"9","o":3,"k":0.729,"t":960.4},{"c":"9a","lv":"9","o":4,"k":0.76,"t":925.3},{"c":"9a","lv":"9","o":5,"k":0.786,"t":897.1},
{"c":"9b","lv":"9","o":1,"k":0.858,"t":853.2},{"c":"9b","lv":"9","o":2,"k":0.904,"t":837.4},{"c":"9b","lv":"9","o":3,"k":0.961,"t":788.2},{"c":"9b","lv":"9","o":4,"k":1.012,"t":756.6},
{"c":"9c","lv":"9","o":1,"k":1.079,"t":717.9},{"c":"9c","lv":"9","o":2,"k":1.105,"t":709.1},{"c":"9c","lv":"9","o":3,"k":1.167,"t":681},{"c":"9c","lv":"9","o":4,"k":1.224,"t":656.4},{"c":"9c","lv":"9","o":5,"k":1.301,"t":628.3},
{"c":"9d","lv":"9","o":1,"k":1.399,"t":603.7},{"c":"9d","lv":"9","o":2,"k":1.502,"t":568.5},{"c":"9d","lv":"9","o":3,"k":1.59,"t":549.2},{"c":"9d","lv":"9","o":4,"k":1.662,"t":528.1},{"c":"9d","lv":"9","o":5,"k":1.682,"t":522.8},
{"c":"9e","lv":"9","o":1,"k":1.76,"t":507},{"c":"9e","lv":"9","o":2,"k":1.796,"t":500},
{"c":"Aa","lv":"149","o":1,"k":1.786,"t":1011.4},{"c":"Aa","lv":"149","o":2,"k":1.734,"t":1007.8},{"c":"Aa","lv":"149","o":3,"k":1.595,"t":995.6},{"c":"Aa","lv":"149","o":4,"k":1.569,"t":993.8},
{"c":"Ab","lv":"149","o":1,"k":1.456,"t":979.7},{"c":"Ab","lv":"149","o":2,"k":1.425,"t":976.2},{"c":"Ab","lv":"149","o":3,"k":1.286,"t":963.9},{"c":"Ab","lv":"149","o":4,"k":1.182,"t":951.6},{"c":"Ab","lv":"149","o":5,"k":1.1,"t":937.5},{"c":"Ab","lv":"149","o":6,"k":1.012,"t":920},{"c":"Ab","lv":"149","o":7,"k":0.945,"t":897.1},{"c":"Ab","lv":"149","o":8,"k":0.894,"t":872.5},{"c":"Ab","lv":"149","o":9,"k":0.842,"t":844.4},{"c":"Ab","lv":"149","o":10,"k":0.811,"t":818.1},
{"c":"Ac","lv":"149","o":1,"k":0.78,"t":765.3},{"c":"Ac","lv":"149","o":2,"k":0.765,"t":744.3},{"c":"Ac","lv":"149","o":3,"k":0.765,"t":726.7},{"c":"Ac","lv":"149","o":4,"k":0.77,"t":696.8},{"c":"Ac","lv":"149","o":5,"k":0.791,"t":679.2},{"c":"Ac","lv":"149","o":6,"k":0.822,"t":651.1},{"c":"Ac","lv":"149","o":7,"k":0.842,"t":638.8},{"c":"Ac","lv":"149","o":8,"k":0.868,"t":624.8},{"c":"Ac","lv":"149","o":9,"k":0.909,"t":607.2},{"c":"Ac","lv":"149","o":10,"k":0.971,"t":591.4},{"c":"Ac","lv":"149","o":11,"k":1.012,"t":577.3},{"c":"Ac","lv":"149","o":12,"k":1.064,"t":568.5},{"c":"Ac","lv":"149","o":13,"k":1.146,"t":542.2},
{"c":"Ad","lv":"149","o":1,"k":1.27,"t":528.1},{"c":"Ad","lv":"149","o":2,"k":1.384,"t":522.8},{"c":"Ad","lv":"149","o":3,"k":1.451,"t":519.3},{"c":"Ad","lv":"149","o":4,"k":1.487,"t":500},
{"c":"Ba","lv":"149","o":1,"k":2.146,"t":876},{"c":"Ba","lv":"149","o":2,"k":2.079,"t":872.5},{"c":"Ba","lv":"149","o":3,"k":1.976,"t":867.3},{"c":"Ba","lv":"149","o":4,"k":1.873,"t":858.5},{"c":"Ba","lv":"149","o":5,"k":1.786,"t":849.7},{"c":"Ba","lv":"149","o":6,"k":1.693,"t":840.9},
{"c":"Bb","lv":"149","o":1,"k":1.574,"t":818.1},{"c":"Bb","lv":"149","o":2,"k":1.512,"t":811},{"c":"Bb","lv":"149","o":3,"k":1.409,"t":800.5},{"c":"Bb","lv":"149","o":4,"k":1.337,"t":784.7},{"c":"Bb","lv":"149","o":5,"k":1.28,"t":749.5},{"c":"Bb","lv":"149","o":6,"k":1.275,"t":709.1},{"c":"Bb","lv":"149","o":7,"k":1.275,"t":656.4},{"c":"Bb","lv":"149","o":8,"k":1.286,"t":624.8},{"c":"Bb","lv":"149","o":9,"k":1.332,"t":607.2},{"c":"Bb","lv":"149","o":10,"k":1.347,"t":600.2},
{"c":"Bc","lv":"149","o":1,"k":1.435,"t":566.8},{"c":"Bc","lv":"149","o":2,"k":1.461,"t":561.5},{"c":"Bc","lv":"149","o":3,"k":1.492,"t":547.4},{"c":"Bc","lv":"149","o":4,"k":1.502,"t":533.4},{"c":"Bc","lv":"149","o":5,"k":1.538,"t":524.6},{"c":"Bc","lv":"149","o":6,"k":1.646,"t":521.1},{"c":"Bc","lv":"149","o":7,"k":1.708,"t":515.8},{"c":"Bc","lv":"149","o":8,"k":1.77,"t":503.5},{"c":"Bc","lv":"149","o":9,"k":1.786,"t":500}
]
},
"encoding":{
"x":{"field":"k","type":"quantitative","scale":{"domain":[0.6,2.95],"nice":false,"zero":false},
 "axis":{"values":[1,1.5,2,2.5],"format":"~g","labelPadding":9,"title":"Kₚ","titleFontSize":24,"titleFontStyle":"italic","titleX":249,"titleY":34,"titleBaseline":"alphabetic"}},
"y":{"field":"t","type":"quantitative","scale":{"domain":[500,1050],"nice":false,"zero":false},
 "axis":{"values":[500,600,700,800,900,1000],"format":"d","labelPadding":3,"title":"τd(buckets)","titleFontSize":25,"titleX":-47,"titleY":163,"titleBaseline":"alphabetic","titleAlign":"center"}}
},
"layer":[
{"data":{"name":"heat"},"mark":{"type":"rect","width":10,"height":29.5},
 "encoding":{"fill":{"field":"g","type":"quantitative",
  "scale":{"domain":[-1,178.57,357.14,535.71,714.29,892.86,1071.43,1250],"range":["#3e26a8","#4752f4","#2e87f7","#12b1d6","#37c897","#abc739","#fec338","#f9fb15"]},
  "legend":{"orient":"none","legendX":459,"legendY":1,"direction":"vertical","gradientLength":313,"gradientThickness":9,"gradientStrokeWidth":0,"values":[0,200,400,600,800,1000,1200],"format":"d","labelFontSize":19,"labelOffset":7,"labelColor":"#262626","title":"Growth Rate[s⁻¹]","titleOrient":"right","titleFontSize":30,"titleFontWeight":"normal","titleAnchor":"start","titlePadding":23,"titleLimit":500,
   "encode":{"title":{"update":{"angle":{"value":270},"align":{"value":"left"},"dx":{"value":19}}}}}}}},
{"data":{"name":"pts"},"mark":{"type":"line","color":"black","strokeWidth":1.6},"encoding":{"detail":{"field":"t"}}},
{"data":{"name":"pts"},"mark":{"type":"point","filled":true,"opacity":1,"stroke":"black","strokeWidth":1.2},
 "encoding":{
  "color":{"field":"m","type":"nominal","scale":{"domain":["-1","-2","+1","-3"],"range":["#e8781e","#22c4e6","#ff00ff","#11a83b"]},
   "legend":{"orient":"none","legendX":359,"legendY":6,"title":null,"labelExpr":"'Mode ' + datum.label","labelFontSize":17,"labelColor":"#000","symbolSize":170,"symbolStrokeColor":"black","symbolStrokeWidth":1.5,"strokeColor":"#999","fillColor":"white","padding":5,"rowPadding":3,"labelOffset":3}},
  "shape":{"field":"m","type":"nominal","scale":{"domain":["-1","-2","+1","-3"],"range":["M0,-1L0.2245,-0.309L0.9511,-0.309L0.3633,0.118L0.5878,0.809L0,0.382L-0.5878,0.809L-0.3633,0.118L-0.9511,-0.309L-0.2245,-0.309Z","triangle-up","square","circle"]},
   "legend":{"orient":"none","legendX":359,"legendY":6,"title":null,"labelExpr":"'Mode ' + datum.label","labelFontSize":17,"labelColor":"#000","symbolSize":170,"symbolStrokeColor":"black","symbolStrokeWidth":1.5,"strokeColor":"#999","fillColor":"white","padding":5,"rowPadding":3,"labelOffset":3}},
  "size":{"field":"m","type":"nominal","scale":{"domain":["-1","-2","+1","-3"],"range":[110,85,26,55]},"legend":null}}},
{"layer":[
 {"data":{"name":"cont"},"mark":{"type":"line","strokeWidth":2.3},
  "encoding":{"detail":{"field":"c"},"order":{"field":"o"},
   "color":{"field":"lv","type":"nominal","scale":{"domain":["0","3","6","9","149"],"range":["#3a62e6","#3ee08c","#e8c832","#f07a55","#f4ee1e"]},"legend":null},
   "strokeDash":{"field":"lv","type":"nominal","scale":{"domain":["0","3","6","9","149"],"range":[[9,8],[9,8],[9,8],[9,8],[1,0]]},"legend":null}}},
 {"data":{"values":[{"k":0.662,"t":1025,"lv":"9"},{"k":0.976,"t":980,"lv":"6"},{"k":0.817,"t":874,"lv":"9"}]},
  "mark":{"type":"text","angle":70,"fontSize":14,"font":"Liberation Serif"},
  "encoding":{"text":{"field":"lv"},"color":{"field":"lv","type":"nominal","legend":null}}},
 {"data":{"values":[{"k":1.219,"t":841,"lv":"6"},{"k":1.048,"t":735,"lv":"9"},{"k":1.621,"t":872,"lv":"3"}]},
  "mark":{"type":"text","angle":55,"fontSize":14,"font":"Liberation Serif"},
  "encoding":{"text":{"field":"lv"},"color":{"field":"lv","type":"nominal","legend":null}}},
 {"data":{"values":[{"k":1.518,"t":718,"lv":"6"},{"k":1.347,"t":616,"lv":"9"},{"k":1.961,"t":765,"lv":"3"},{"k":1.951,"t":981,"lv":"0"},{"k":1.389,"t":581,"lv":"149"}]},
  "mark":{"type":"text","angle":45,"fontSize":14,"font":"Liberation Serif"},
  "encoding":{"text":{"field":"lv"},"color":{"field":"lv","type":"nominal","legend":null}}},
 {"data":{"values":[{"k":1.878,"t":618,"lv":"6"},{"k":2.286,"t":537,"lv":"6"},{"k":1.719,"t":516,"lv":"9"},{"k":2.347,"t":672,"lv":"3"},{"k":2.291,"t":872,"lv":"0"},{"k":2.672,"t":783,"lv":"0"}]},
  "mark":{"type":"text","angle":32,"fontSize":14,"font":"Liberation Serif"},
  "encoding":{"text":{"field":"lv"},"color":{"field":"lv","type":"nominal","legend":null}}},
 {"data":{"values":[{"k":1.208,"t":533,"lv":"149"}]},
  "mark":{"type":"text","angle":20,"fontSize":14,"font":"Liberation Serif"},
  "encoding":{"text":{"field":"lv"},"color":{"field":"lv","type":"nominal","legend":null}}},
 {"data":{"values":[{"k":1.512,"t":987,"lv":"149"}]},
  "mark":{"type":"text","angle":-18,"fontSize":14,"font":"Liberation Serif"},
  "encoding":{"text":{"field":"lv"},"color":{"field":"lv","type":"nominal","legend":null}}},
 {"data":{"values":[{"k":1.631,"t":829,"lv":"149"}]},
  "mark":{"type":"text","angle":-32,"fontSize":14,"font":"Liberation Serif"},
  "encoding":{"text":{"field":"lv"},"color":{"field":"lv","type":"nominal","legend":null}}},
 {"data":{"values":[{"k":0.791,"t":792,"lv":"149"}]},
  "mark":{"type":"text","angle":-78,"fontSize":14,"font":"Liberation Serif"},
  "encoding":{"text":{"field":"lv"},"color":{"field":"lv","type":"nominal","legend":null}}}
]}
],
"resolve":{"scale":{"color":"independent","shape":"independent","size":"independent"}}
}
